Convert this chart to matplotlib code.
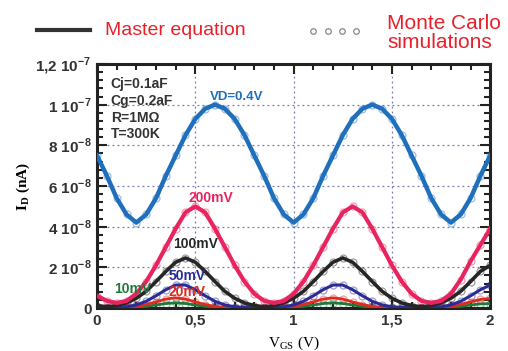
import matplotlib
matplotlib.use("Agg")
import matplotlib.pyplot as plt
import numpy as np
from matplotlib.lines import Line2D
from matplotlib.ticker import MultipleLocator

# DATA (I_D in units of 1e-8, V_GS sampled every 0.05 V from 0 to 2)
vgs = np.linspace(0, 2, 41)

vd_400 = [7.5, 6.5, 5.4, 4.6, 4.2, 4.6, 5.4, 6.5, 7.5, 8.5, 9.3, 9.8, 10.0, 9.8, 9.3, 8.5,
          7.5, 6.5, 5.4, 4.6, 4.2, 4.6, 5.4, 6.5, 7.5, 8.5, 9.3, 9.8, 10.0, 9.8, 9.3, 8.5,
          7.5, 6.5, 5.4, 4.6, 4.2, 4.6, 5.4, 6.5, 7.5]
vd_200 = [0.6, 0.35, 0.25, 0.35, 0.7, 1.3, 2.1, 3.0, 3.9, 4.7, 5.0, 4.7, 3.9, 3.0, 2.1, 1.3,
          0.7, 0.35, 0.25, 0.35, 0.7, 1.3, 2.1, 3.0, 3.9, 4.7, 5.0, 4.7, 3.9, 3.0, 2.1, 1.3,
          0.7, 0.35, 0.25, 0.35, 0.7, 1.4, 2.3, 3.1, 3.9]
vd_100 = [0.12, 0.06, 0.12, 0.25, 0.48, 0.82, 1.3, 1.8, 2.25, 2.46, 2.25, 1.8, 1.3, 0.82, 0.48, 0.25,
          0.12, 0.06, 0.12, 0.25, 0.48, 0.82, 1.3, 1.8, 2.25, 2.46, 2.25, 1.8, 1.3, 0.82, 0.48, 0.25,
          0.12, 0.06, 0.12, 0.25, 0.48, 0.82, 1.3, 1.8, 2.1]
vd_50 = [0.02, 0.02, 0.03, 0.06, 0.15, 0.33, 0.6, 0.9, 1.13, 1.13, 0.9, 0.6, 0.33, 0.15, 0.06, 0.03,
         0.02, 0.02, 0.03, 0.06, 0.15, 0.33, 0.6, 0.9, 1.13, 1.13, 0.9, 0.6, 0.33, 0.15, 0.06, 0.03,
         0.02, 0.02, 0.03, 0.06, 0.15, 0.33, 0.6, 0.9, 1.13]
vd_20 = [0.0, 0.0, 0.01, 0.03, 0.08, 0.17, 0.3, 0.44, 0.5, 0.44, 0.3, 0.17, 0.08, 0.03, 0.01, 0.0,
         0.0, 0.0, 0.01, 0.03, 0.08, 0.17, 0.3, 0.44, 0.5, 0.44, 0.3, 0.17, 0.08, 0.03, 0.01, 0.0,
         0.0, 0.0, 0.01, 0.03, 0.08, 0.17, 0.3, 0.42, 0.47]
vd_10 = [0.0, 0.0, 0.005, 0.015, 0.04, 0.08, 0.15, 0.22, 0.25, 0.22, 0.15, 0.08, 0.04, 0.015, 0.005, 0.0,
         0.0, 0.0, 0.005, 0.015, 0.04, 0.08, 0.15, 0.22, 0.25, 0.22, 0.15, 0.08, 0.04, 0.015, 0.005, 0.0,
         0.0, 0.0, 0.005, 0.015, 0.04, 0.08, 0.15, 0.2, 0.22]

series = [
    (vd_10, "#1e7a3c", 2.0),
    (vd_20, "#e02a1e", 2.0),
    (vd_50, "#2b2b96", 2.2),
    (vd_100, "#262626", 2.6),
    (vd_200, "#e8245e", 3.0),
    (vd_400, "#1f6fbd", 3.2),
]

ytick_vals = [0, 2e-8, 4e-8, 6e-8, 8e-8, 1e-7, 1.2e-7]
ytick_labels = ["0", r"2 10$^{\mathbf{-8}}$", r"4 10$^{\mathbf{-8}}$", r"6 10$^{\mathbf{-8}}$",
                r"8 10$^{\mathbf{-8}}$", r"1 10$^{\mathbf{-7}}$", r"1,2 10$^{\mathbf{-7}}$"]
xtick_vals = [0, 0.5, 1, 1.5, 2]
xtick_labels = ["0", "0,5", "1", "1,5", "2"]

plt.rcParams["font.family"] = ["Liberation Sans", "DejaVu Sans"]
plt.rcParams["mathtext.fontset"] = "custom"
plt.rcParams["mathtext.rm"] = "Liberation Sans:bold"
plt.rcParams["mathtext.bf"] = "Liberation Sans:bold"

fig = plt.figure(figsize=(5.08, 3.51), dpi=100)
ax = fig.add_axes([0.191, 0.1225, 0.774, 0.6952])

for vals, col, lw in series:
    y = np.array(vals) * 1e-8
    ax.plot(vgs, y, "o", ms=5, mfc="none", mec=col, mew=0.9, alpha=0.45, zorder=2)
    ax.plot(vgs, y, "-", color=col, lw=lw, zorder=3, solid_joinstyle="round")

ax.set_xlim(0, 2)
ax.set_ylim(0, 1.2e-7)
ax.set_yticks(ytick_vals)
ax.set_yticklabels(ytick_labels)
ax.set_xticks(xtick_vals)
ax.set_xticklabels(xtick_labels)
ax.yaxis.set_minor_locator(MultipleLocator(0.4e-8))
ax.xaxis.set_minor_locator(MultipleLocator(0.1))
ax.tick_params(which="both", direction="in", top=True, right=True, width=1.5, colors="#222222")
ax.tick_params(which="major", length=7, labelsize=11, labelcolor="#333333", pad=4)
ax.tick_params(which="minor", length=4)
for lab in ax.get_xticklabels() + ax.get_yticklabels():
    lab.set_fontweight("bold")
for sp in ax.spines.values():
    sp.set_linewidth(2.2)
    sp.set_color("#222222")

ax.grid(True, which="major", linestyle=(0, (1.5, 2.5)), color="#7878b8", linewidth=0.9)

ax.set_xlabel(r"V$_{\mathregular{GS}}$ (V)", family="Liberation Serif", fontsize=11, labelpad=5)
ax.set_ylabel(r"I$_{\mathregular{D}}$ (nA)", family="Liberation Serif", fontsize=11, fontweight="bold", labelpad=2)

# curve labels
ax.text(0.71, 1.01e-7, "VD=0.4V", color="#1f6fbd", fontsize=9.5, fontweight="bold", ha="center", va="bottom")
ax.text(0.58, 5.05e-8, "200mV", color="#e8245e", fontsize=10, fontweight="bold", ha="center", va="bottom")
ax.text(0.50, 2.8e-8, "100mV", color="#262626", fontsize=10, fontweight="bold", ha="center", va="bottom")
ax.text(0.46, 1.25e-8, "50mV", color="#2b2b96", fontsize=10, fontweight="bold", ha="center", va="bottom")
ax.text(0.46, 0.45e-8, "20mV", color="#e02a1e", fontsize=10, fontweight="bold", ha="center", va="bottom")
ax.text(0.18, 0.6e-8, "10mV", color="#1e7a3c", fontsize=10, fontweight="bold", ha="center", va="bottom")
ax.text(0.07, 1.135e-7, "Cj=0.1aF\nCg=0.2aF\nR=1M\u03a9\nT=300K", color="#333333", fontsize=10,
        fontweight="bold", ha="left", va="top", linespacing=1.25)

# legend at the top
fig.add_artist(Line2D([0.073, 0.177], [0.915, 0.915], color="#333333", lw=3))
fig.text(0.207, 0.912, "Master equation", color="#e8202a", fontsize=14, va="center", ha="left")
fig.add_artist(Line2D([0.617, 0.645, 0.673, 0.701], [0.912] * 4, ls="none", marker="o",
                      ms=4, mfc="none", mec="#888888", mew=0.9))
fig.text(0.762, 0.905, "Monte Carlo\nsimulations", color="#e8202a", fontsize=15, va="center", ha="left",
         linespacing=1.0)

plt.savefig("out.png", dpi=100)
